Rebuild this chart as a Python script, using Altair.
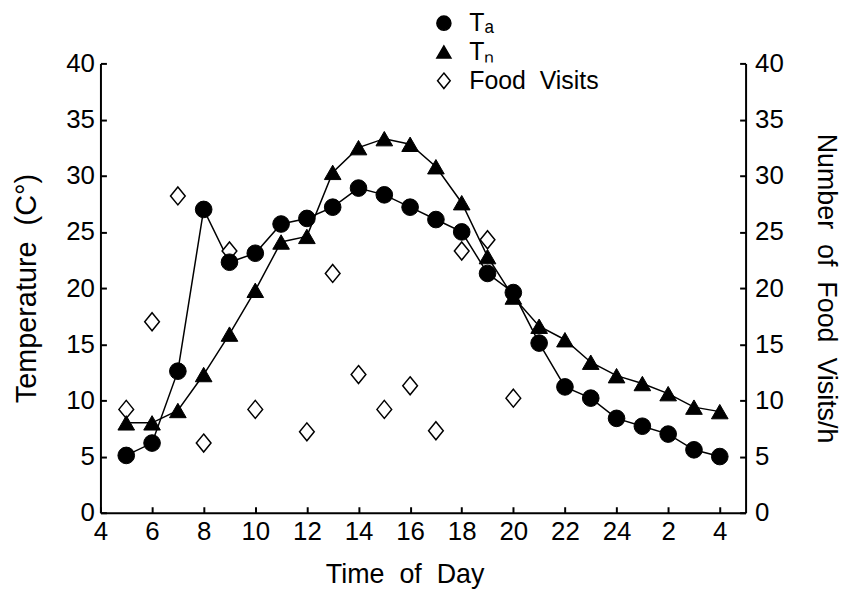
import altair as alt
import pandas as pd

# ---- data ----
hours = list(range(5, 29))  # 5 h .. 28 h (= 4 h next day)
ta = [5.1, 6.2, 12.6, 27.0, 22.3, 23.1, 25.7, 26.2, 27.2, 28.9, 28.3, 27.2,
      26.1, 25.0, 21.3, 19.6, 15.1, 11.2, 10.2, 8.4, 7.7, 7.0, 5.6, 5.0]
tn = [8.0, 8.0, 9.1, 12.3, 15.9, 19.8, 24.1, 24.6, 30.3, 32.5, 33.3, 32.8,
      30.8, 27.6, 22.8, 19.2, 16.6, 15.4, 13.4, 12.2, 11.5, 10.6, 9.4, 9.0]
visit_hours = [5, 6, 7, 8, 9, 10, 12, 13, 14, 15, 16, 17, 18, 19, 20]
visits = [9.2, 17.0, 28.2, 6.2, 23.3, 9.2, 7.2, 21.3, 12.3, 9.2, 11.3, 7.3, 23.3, 24.3, 10.2]
series_names = ["T\u2090", "T\u2099", "Food\u00a0\u00a0Visits"]
x_ticks = list(range(4, 29, 2))
y_ticks = list(range(0, 41, 5))

temps = pd.DataFrame({
    "hour": hours + hours,
    "value": ta + tn,
    "series": [series_names[0]] * len(hours) + [series_names[1]] * len(hours),
})
food = pd.DataFrame({"hour": visit_hours, "value": visits, "series": series_names[2]})

FONT = "Liberation Sans, Arial, sans-serif"
inward = {"expr": "-6"}

x_enc = alt.X(
    "hour:Q",
    scale=alt.Scale(domain=[4, 29], nice=False, zero=False),
    axis=alt.Axis(
        values=x_ticks,
        labelExpr="datum.value > 24 ? '' + (datum.value - 24) : '' + datum.value",
        labelFlush=False, labelOverlap=False,
        tickSize=inward, labelPadding=12,
        title="Time\u00a0\u00a0of\u00a0\u00a0Day", titleX=306, titleY=70,
        titleFontSize=27,
        titleBaseline="alphabetic", titleAlign="center",
    ),
)

y_scale = alt.Scale(domain=[0, 40], nice=False)

legend = alt.Legend(
    title=None, orient="none", legendX=333, legendY=-53,
    symbolSize=200, symbolStrokeColor="black", symbolStrokeWidth=1.5,
    labelFont=FONT, labelFontSize=25, labelColor="black",
    labelOffset=13, rowPadding=3, padding=0,
)
shape_enc = alt.Shape(
    "series:N",
    scale=alt.Scale(domain=series_names,
                    range=["circle", "triangle-up", "M0,-1.1L0.9,0L0,1.1L-0.9,0Z"]),
    legend=legend,
)
fill_enc = alt.Fill(
    "series:N",
    scale=alt.Scale(domain=series_names, range=["black", "black", "white"]),
    legend=legend,
)
stroke_enc = alt.Stroke(
    "series:N",
    scale=alt.Scale(domain=series_names, range=["black", "black", "black"]),
    legend=legend,
)

lines = alt.Chart(temps).mark_line(color="black", strokeWidth=1.5).encode(
    x=x_enc,
    y=alt.Y("value:Q", scale=y_scale, axis=None),
    detail="series:N",
)

food_pts = alt.Chart(food).mark_point(
    size=270, strokeWidth=1.5, opacity=1
).encode(
    x=x_enc,
    y=alt.Y("value:Q", scale=y_scale,
            axis=alt.Axis(orient="right", values=y_ticks, tickSize=inward, labelPadding=15,
                          title="Number\u00a0\u00a0of\u00a0\u00a0Food\u00a0\u00a0Visits/h",
                          titleAngle=90, titleFontSize=27,
                          titleX=72, titleBaseline="alphabetic", titleAlign="center")),
    shape=shape_enc,
    fill=fill_enc,
    stroke=stroke_enc,
)

temp_pts = alt.Chart(temps).mark_point(
    size=280, strokeWidth=1, opacity=1
).encode(
    x=x_enc,
    y=alt.Y("value:Q", scale=y_scale,
            axis=alt.Axis(orient="left", values=y_ticks, tickSize=inward, labelPadding=12,
                          title="Temperature\u00a0\u00a0(C\u00b0)", titleAngle=-90,
                          titleFontSize=29,
                          titleX=-65, titleBaseline="alphabetic", titleAlign="center")),
    shape=shape_enc,
    fill=fill_enc,
    stroke=stroke_enc,
)

chart = alt.layer(lines, food_pts, temp_pts).resolve_scale(
    y="independent"
).properties(
    width=649, height=452,
    autosize="none",
    padding={"left": 93, "top": 54, "right": 98, "bottom": 75},
    background="white",
).configure_view(stroke=None).configure_axis(
    grid=False,
    domainColor="black", domainWidth=2,
    tickColor="black", tickWidth=2,
    labelFont=FONT, labelFontSize=26, labelColor="black",
    titleFont=FONT, titleFontWeight="normal", titleColor="black",
)

chart.save("out.html", embed_options={"renderer": "svg", "actions": False})
